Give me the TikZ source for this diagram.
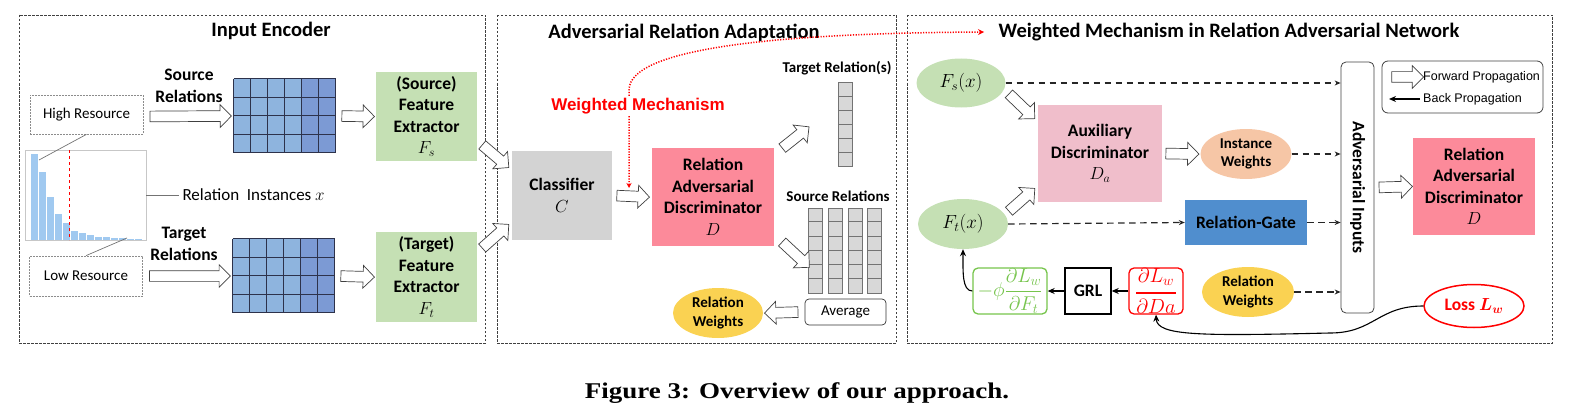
\RequirePackage{fix-cm}
\documentclass[tikz,border=0pt]{standalone}
\usepackage{amsmath,amssymb}
\usepackage{fontspec}
\setmainfont{Carlito}
\newfontfamily\arialfont{Liberation Sans}
\newfontfamily\capfont{Liberation Serif}[FakeStretch=1.2]
\usepackage{tikz}
\usetikzlibrary{arrows.meta,positioning,calc,shapes.geometric,shapes.arrows}
\definecolor{histblue}{RGB}{160,201,240}
\definecolor{cellA}{RGB}{142,180,222}
\definecolor{cellB}{RGB}{124,154,212}
\definecolor{gridedge}{RGB}{45,50,75}
\definecolor{fegreen}{RGB}{197,224,180}
\definecolor{clsgray}{RGB}{211,211,211}
\definecolor{colgray}{RGB}{216,216,216}
\definecolor{radpink}{RGB}{252,138,154}
\definecolor{auxpink}{RGB}{240,190,203}
\definecolor{instpeach}{RGB}{246,198,166}
\definecolor{gateblue}{RGB}{80,142,206}
\definecolor{wyellow}{RGB}{250,210,82}
\definecolor{gradgreen}{RGB}{118,196,76}
\tikzset{
  panel/.style={draw=black!75, dash pattern=on 2.5pt off 1.5pt, line width=0.8pt},
  paneltitle/.style={font=\fontsize{20.5}{24}\selectfont\bfseries},
  resbox/.style={draw=black!45, dash pattern=on 2pt off 1pt, line width=0.7pt,
    font=\fontsize{15}{18}\selectfont},
  histframe/.style={draw=black!22, line width=0.9pt, inner sep=0pt},
  histbar/.style={fill=histblue},
  pointer/.style={draw=black!55, line width=0.7pt},
  inlabel/.style={font=\fontsize{17}{20}\selectfont},
  boxtext/.style={align=center, font=\fontsize{17.5}{21.5}\selectfont\bfseries},
  procbox/.style={boxtext, inner sep=0pt},
  smalltext/.style={align=center, font=\fontsize{15}{18.5}\selectfont\bfseries},
  gridbox/.style={minimum width=102, minimum height=74, inner sep=0pt},
  gridline/.style={draw=gridedge, line width=0.9pt},
  colbox/.style={draw=black!55, fill=colgray, minimum width=14, inner sep=0pt, line width=0.7pt},
  colline/.style={draw=black!55, line width=0.7pt},
  oval/.style={ellipse, inner sep=0pt, smalltext},
  fwdarrow/.style={single arrow, draw=black!75, fill=white, line width=0.7pt, inner sep=5pt,
    single arrow head extend=6pt, single arrow tip angle=90, single arrow head indent=0pt},
  dflow/.style={draw=black!85, line width=1.2pt, dash pattern=on 6.5pt off 4.5pt,
    -{Stealth[length=6pt,width=5pt]}},
  back/.style={draw=black, line width=1.1pt, -{Stealth[length=7pt,width=6pt]}},
  wmline/.style={draw=red, line width=1.5pt, dash pattern=on 1.2pt off 1.5pt,
    {Stealth[length=5pt,width=5pt]}-{Stealth[length=6pt,width=6pt]}},
  legendtext/.style={font=\arialfont\fontsize{12.5}{15}\selectfont, inner sep=0pt}
}
% hollow arrow between two points
\newcommand\fwd[3]{%
  \path let \p1=#2, \p2=#3,
    \n1={atan2(\y2-\y1,\x2-\x1)}, \n2={veclen(\x2-\x1,\y2-\y1)} in
    node[fwdarrow, minimum height=\n2, rotate=\n1] (#1) at ({(\x1+\x2)/2},{(\y1+\y2)/2}) {};}

\begin{document}
\begin{tikzpicture}[x=1pt, y=-1pt, >=Stealth]
  \useasboundingbox (0,0) rectangle (1577,420);
  % panels
  \draw[panel] (19,15) rectangle (485,343);
  \draw[panel] (497,15) rectangle (896,343);
  \draw[panel] (907,15) rectangle (1552,343);
  \node[paneltitle] (enctitle) at (271,31) {Input Encoder};
  \node[paneltitle] (adatitle) at (684,33) {Adversarial Relation Adaptation};
  \node[paneltitle] (wmtitle) at (1229,32) {Weighted Mechanism in Relation Adversarial Network};

  % input encoder
  \node[resbox, minimum width=113, minimum height=39] (hires) at (86.5,114.5) {High Resource};
  \node[resbox, minimum width=113, minimum height=40] (lores) at (86,276) {Low Resource};
  \node[histframe, minimum width=121, minimum height=90] (hist) at (85.5,195) {};
  \foreach \top [count=\k from 0] in {154,172,197,214,223,231,233,235,236.5,237,237.5,238,238.5,239}
    \fill[histbar] (31+8*\k,\top) rectangle (38+8*\k,240);
  \draw[red, dashed, line width=0.8pt] (69,150) -- (69,240);
  \coordinate (peak) at (39,160);
  \coordinate (tail) at (127,238);
  \draw[pointer] (hires.south) -- (peak);
  \draw[pointer] (lores.north) -- (tail);
  \node[inlabel, anchor=west] (instlbl) at (179,195) {Relation\ \ Instances $x$};
  \draw[pointer] (hist.east) -- (instlbl.west);

  \node[boxtext] (srclbl) at (189,86) {Source\\Relations};
  \node[boxtext] (tgtlbl) at (184,244) {Target\\Relations};
  \node[gridbox] (srcgrid) at (285,116) {};
  \node[gridbox] (tgtgrid) at (284,276) {};
  \foreach \g in {srcgrid,tgtgrid} {
    \fill[cellA] (\g.north west) rectangle ([xshift=68]\g.south west);
    \fill[cellB] ([xshift=68]\g.north west) rectangle (\g.south east);
    \foreach \i in {0,...,6}
      \draw[gridline] ([xshift=17*\i]\g.north west) -- ([xshift=17*\i]\g.south west);
    \foreach \j in {0,...,4}
      \draw[gridline] ([shift={(0,18.5*\j)}]\g.north west) -- ([shift={(0,18.5*\j)}]\g.north east);
  }
  \node[procbox, fill=fegreen, minimum width=101, minimum height=89] (srcfe) at (426.5,116.5)
    {(Source)\\Feature\\Extractor\\$F_s$};
  \node[procbox, fill=fegreen, minimum width=101, minimum height=90] (tgtfe) at (426.5,277)
    {(Target)\\Feature\\Extractor\\$F_t$};
  \fwd{fa1}{([shift={(4,2)}]hires.east)}{([xshift=-5]srcgrid.west)}
  \fwd{fa2}{([xshift=4]lores.east)}{([xshift=-5]tgtgrid.west)}
  \fwd{fa3}{([xshift=3]srcgrid.east)}{([xshift=-4]srcfe.west)}
  \fwd{fa4}{([xshift=3]tgtgrid.east)}{([xshift=-4]tgtfe.west)}

  % adversarial relation adaptation
  \node[procbox, fill=clsgray, minimum width=100, minimum height=89] (classifier) at (562,195.5)
    {Classifier\\$C$};
  \node[procbox, fill=radpink, minimum width=122, minimum height=98] (rad) at (713,197)
    {Relation\\Adversarial\\Discriminator\\$D$};
  \fwd{fa5}{([shift={(3,-18)}]srcfe.south east)}{([shift={(-5,15)}]classifier.north west)}
  \fwd{fa6}{([shift={(3,18)}]tgtfe.north east)}{([shift={(-5,-14)}]classifier.south west)}
  \fwd{fa7}{([xshift=2]classifier.east)}{([xshift=-5]rad.west)}

  \coordinate (wmhead) at (629,188);
  \coordinate (wmbend) at (629,90);
  \coordinate (wmtail) at (984,32);
  \draw[wmline] (wmhead) -- (wmbend) .. controls (629,45) and (800,33) .. (wmtail);
  \node[font=\arialfont\bfseries\fontsize{17}{20}\selectfont, text=red, fill=white, inner sep=1pt]
    (wmlbl) at (638,106) {Weighted Mechanism};

  \node[smalltext] (tgtrel) at (837,68) {Target Relation(s)};
  \node[colbox, minimum height=84] (tgtcol) at (845.3,124.5) {};
  \foreach \j in {1,...,5}
    \draw[colline] ([shift={(0,14*\j)}]tgtcol.north west) -- ([shift={(0,14*\j)}]tgtcol.north east);
  \node[smalltext] (srcrel) at (838,196) {Source Relations};
  \foreach \cx [count=\c] in {815.8,835.8,855,874.2} {
    \node[colbox, minimum height=85] (srccol\c) at (\cx,250.5) {};
    \foreach \j in {1,...,5}
      \draw[colline] ([shift={(0,14.17*\j)}]srccol\c.north west) -- ([shift={(0,14.17*\j)}]srccol\c.north east);
  }
  \fwd{fa8}{([shift={(6,2)}]rad.north east)}{([shift={(-31,4)}]tgtcol.west)}
  \fwd{fa9}{([shift={(6,-6)}]rad.south east)}{([shift={(-1,15)}]srccol1.west)}
  \node[draw=black!80, rounded corners=4pt, line width=0.7pt, minimum width=81, minimum height=26,
    font=\fontsize{15}{18}\selectfont] (avg) at (845.5,312) {Average};
  \node[oval, fill=wyellow, minimum width=90, minimum height=50] (relw) at (718,313) {Relation\\Weights};
  \fwd{fa10}{([xshift=-4]avg.west)}{([xshift=4]relw.east)}

  % weighted mechanism
  \node[oval, fill=fegreen, minimum width=89, minimum height=49, font=\fontsize{19}{22}\selectfont]
    (fsx) at (961,83) {$F_s(x)$};
  \node[oval, fill=fegreen, minimum width=90, minimum height=50, font=\fontsize{19}{22}\selectfont]
    (ftx) at (963,224) {$F_t(x)$};
  \node[procbox, fill=auxpink, minimum width=124, minimum height=97] (aux) at (1100,153.5)
    {Auxiliary\\Discriminator\\$D_a$};
  \node[oval, fill=instpeach, minimum width=91, minimum height=50] (inst) at (1246,154) {Instance\\Weights};
  \node[procbox, fill=gateblue, minimum width=122, minimum height=45] (gate) at (1246,222.5) {Relation-Gate};
  \node[oval, fill=wyellow, minimum width=92, minimum height=50] (relw2) at (1248,292) {Relation\\Weights};
  \node[draw=black!75, rounded corners=5pt, line width=0.8pt, minimum width=33, minimum height=251,
    inner sep=0pt] (advin) at (1357.5,187.5) {};
  \node[boxtext, rotate=-90] (advlbl) at (advin.center) {Adversarial Inputs};
  \node[procbox, fill=radpink, minimum width=122, minimum height=97] (rad2) at (1474,186.5)
    {Relation\\Adversarial\\Discriminator\\$D$};
  \fwd{fa11}{([shift={(46,9)}]fsx.center)}{([shift={(-5,12)}]aux.north west)}
  \fwd{fa12}{([shift={(44,-11)}]ftx.center)}{([shift={(-5,-12)}]aux.south west)}
  \fwd{fa13}{([xshift=1]aux.east)}{([xshift=-4]inst.west)}
  \fwd{fa15}{([xshift=2]advin.east)}{([xshift=-3]rad2.west)}
  \draw[dflow] (fsx.east) -- (fsx.east -| advin.west);
  \draw[dflow] (inst.east) -- (inst.east -| advin.west);
  \draw[dflow] (ftx.east) -- (gate.west);
  \draw[dflow] (gate.east) -- (gate.east -| advin.west);
  \draw[dflow] (relw2.east) -- (relw2.east -| advin.west);

  % legend
  \node[draw=black!75, rounded corners=6pt, line width=0.8pt, minimum width=161, minimum height=52]
    (legend) at (1462.5,87) {};
  \node[legendtext, anchor=west] (fwdtxt) at (1423,77) {Forward Propagation};
  \node[legendtext, anchor=west] (bcktxt) at (1423,99) {Back Propagation};
  \fwd{fa14}{([xshift=-34]fwdtxt.west)}{([xshift=-2]fwdtxt.west)}
  \draw[back] ([xshift=-3]bcktxt.west) -- ([xshift=-34]bcktxt.west);

  % gradient path
  \node[draw=red, rounded corners=5pt, line width=1.3pt, minimum width=54, minimum height=46,
    inner sep=0pt, text=red, font=\fontsize{20.5}{24}\selectfont] (dldda) at (1156,291)
    {$\genfrac{}{}{2pt}{0}{\partial L_w}{\partial Da}$};
  \node[draw=black, line width=1.4pt, minimum width=46, minimum height=46, inner sep=0pt,
    boxtext] (grl) at (1088,291) {GRL};
  \node[draw=gradgreen, rounded corners=5pt, line width=1.3pt, minimum width=74, minimum height=46,
    inner sep=0pt, text=gradgreen, font=\fontsize{20}{24}\selectfont] (gradft) at (1010,291)
    {$-\phi\dfrac{\partial L_w}{\partial F_t}$};
  \node[ellipse, draw=red, line width=1.5pt, fill=white, minimum width=100, minimum height=43,
    inner sep=0pt, text=red, font=\fontsize{17.5}{21}\selectfont\bfseries] (loss) at (1474,306)
    {Loss {\boldmath$L_w$}};
  \draw[back] (dldda.west) -- (grl.east);
  \draw[back] (grl.west) -- (gradft.east);
  \draw[back] (gradft.west) .. controls (962,291) and (963,272) .. (ftx.south);
  \draw[back] (loss.west) .. controls (1378,306) and (1374,333) .. (1330,333)
    .. controls (1200,336) and (1157,336) .. (dldda.south);

  % caption
  \node[font=\capfont\bfseries\fontsize{22.5}{26}\selectfont] (caption) at (797,393)
    {Figure 3: Overview of our approach.};
\end{tikzpicture}
\end{document}
